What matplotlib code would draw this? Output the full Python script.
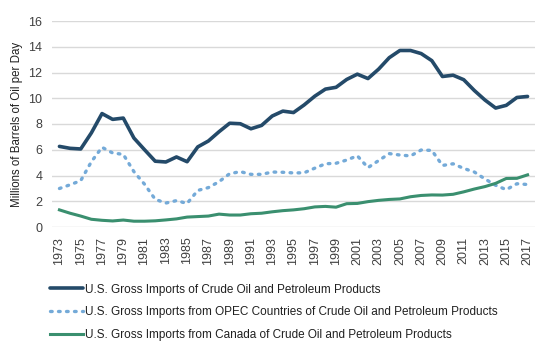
import numpy as np
import matplotlib.pyplot as plt

years = list(range(1973, 2018))

total = [6.26, 6.11, 6.06, 7.31, 8.81, 8.36, 8.46, 6.91, 6.00, 5.11,
         5.05, 5.44, 5.07, 6.22, 6.68, 7.40, 8.06, 8.02, 7.63, 7.89,
         8.62, 9.00, 8.89, 9.48, 10.16, 10.71, 10.85, 11.46, 11.87, 11.53,
         12.26, 13.15, 13.71, 13.71, 13.47, 12.92, 11.69, 11.79, 11.44, 10.60,
         9.86, 9.24, 9.45, 10.06, 10.14]

opec = [2.99, 3.28, 3.60, 5.07, 6.19, 5.75, 5.64, 4.30, 3.32, 2.15,
        1.86, 2.05, 1.83, 2.84, 3.06, 3.52, 4.14, 4.30, 4.09, 4.09,
        4.27, 4.25, 4.20, 4.21, 4.57, 4.91, 4.95, 5.20, 5.53, 4.61,
        5.16, 5.70, 5.59, 5.52, 5.98, 5.95, 4.78, 4.91, 4.55, 4.27,
        3.73, 3.24, 2.90, 3.36, 3.30]

canada = [1.33, 1.07, 0.85, 0.60, 0.52, 0.47, 0.54, 0.45, 0.45, 0.48,
          0.55, 0.63, 0.77, 0.81, 0.85, 1.00, 0.93, 0.93, 1.03, 1.07,
          1.18, 1.27, 1.33, 1.42, 1.56, 1.60, 1.54, 1.81, 1.83, 1.97,
          2.07, 2.14, 2.18, 2.35, 2.45, 2.49, 2.48, 2.54, 2.73, 2.95,
          3.14, 3.39, 3.77, 3.78, 4.05]

labels = ["U.S. Gross Imports of Crude Oil and Petroleum Products",
          "U.S. Gross Imports from OPEC Countries of Crude Oil and Petroleum Products",
          "U.S. Gross Imports from Canada of Crude Oil and Petroleum Products"]

plt.rcParams['font.family'] = ['Liberation Sans', 'DejaVu Sans']

fig = plt.figure(figsize=(5.49, 3.54), dpi=100)
ax = fig.add_axes([52 / 549, 1 - 227 / 354, (535 - 52) / 549, (227 - 21) / 354])

l1, = ax.plot(years, total, color='#244a69', lw=2.6, solid_capstyle='round')
l2, = ax.plot(years, opec, color='#74aad8', lw=2.4, linestyle=(0, (0.5, 1.9)),
              dash_capstyle='round')
l3, = ax.plot(years, canada, color='#3a8f6f', lw=2.2)

ax.set_xlim(1972.3, 2017.7)
ax.set_ylim(0, 16)
ax.set_yticks(range(0, 17, 2))
ax.set_xticks(years[::2])
ax.set_xticklabels([str(y) for y in years[::2]], rotation=90)
ax.tick_params(axis='both', length=0, labelsize=9, colors='#404040')
ax.tick_params(axis='x', pad=7)
ax.tick_params(axis='y', pad=7)
ax.grid(axis='y', color='#d9d9d9', lw=1)
ax.set_axisbelow(True)
for s in ax.spines.values():
    s.set_visible(False)
ax.set_ylabel("Millions of Barrels of Oil per Day", fontsize=8.3, color='#202020')

fig.legend([l1, l2, l3], labels, loc='upper left', bbox_to_anchor=(39 / 549, 1 - 273 / 354),
           frameon=False, fontsize=8.5, handlelength=2.8, handletextpad=0.2,
           labelspacing=0.9, labelcolor='#202020')

fig.savefig("out.png", dpi=100)
